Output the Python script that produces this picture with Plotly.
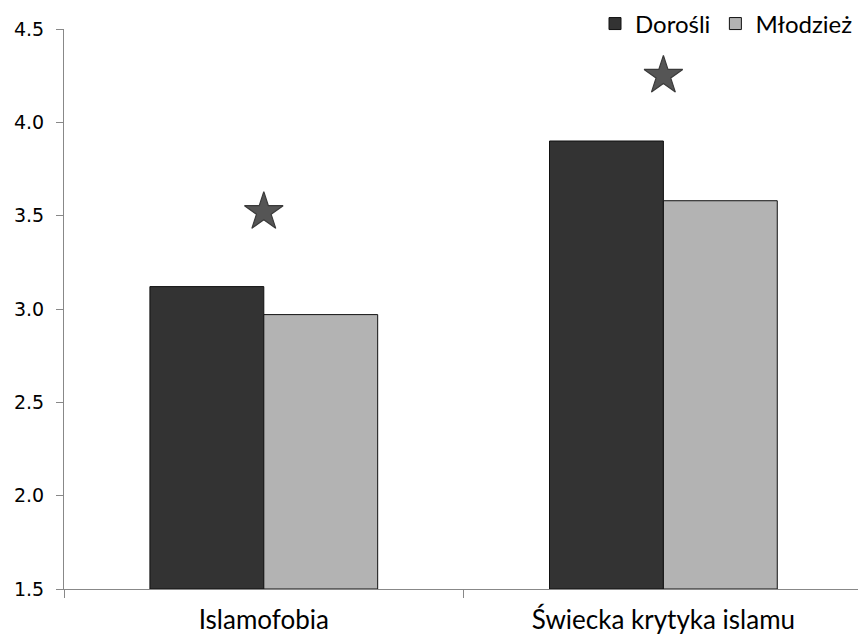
import plotly.graph_objects as go

categories = ["Islamofobia", "Świecka krytyka islamu"]
series_names = ["Dorośli", "Młodzież"]
dorosli = [3.12, 3.90]
mlodziez = [2.97, 3.58]
star_values = [3.52, 4.25]
y_ticks = [1.5, 2.0, 2.5, 3.0, 3.5, 4.0, 4.5]

FONT = "Lato"
BASE = 1.5

fig = go.Figure()
fig.add_trace(go.Bar(name=series_names[0], x=categories, y=[v - BASE for v in dorosli], base=BASE,
                     marker=dict(color="#333333", line=dict(color="#111111", width=1))))
fig.add_trace(go.Bar(name=series_names[1], x=categories, y=[v - BASE for v in mlodziez], base=BASE,
                     marker=dict(color="#b3b3b3", line=dict(color="#111111", width=1))))
fig.add_trace(go.Scatter(x=categories, y=star_values, mode="markers", showlegend=False,
                         marker=dict(symbol="star", size=29, color="#555555",
                                     line=dict(color="#3a3a3a", width=1.2))))

fig.update_layout(
    width=858, height=634,
    margin=dict(l=64, r=0, t=29, b=45, autoexpand=False),
    plot_bgcolor="white", paper_bgcolor="white",
    barmode="group", bargap=0.43, bargroupgap=0,
    font=dict(family=FONT, color="black"),
    legend=dict(orientation="h", x=1.0, xanchor="right", y=1.009, yanchor="middle",
                font=dict(size=24, family=FONT, color="black"), itemwidth=30,
                traceorder="normal", bgcolor="rgba(0,0,0,0)"),
    xaxis=dict(range=[-0.5, 1.487], showline=True, linecolor="#888888", linewidth=1,
               ticks="outside", tickson="boundaries", ticklen=8, tickcolor="#888888",
               ticklabelstandoff=8,
               tickfont=dict(size=26, family=FONT), showgrid=False),
    yaxis=dict(range=[1.5, 4.5], tickvals=y_ticks, ticktext=[f"{v:.1f}" for v in y_ticks],
               showline=True, linecolor="#888888", linewidth=1, ticks="outside",
               ticklen=7, tickcolor="#888888", showgrid=False, zeroline=False,
               ticklabelstandoff=8,
               tickfont=dict(size=19, family="DejaVu Sans")),
)
fig.write_html("out.html", config={"displayModeBar": False},
               post_script="document.body.style.margin='0';")
